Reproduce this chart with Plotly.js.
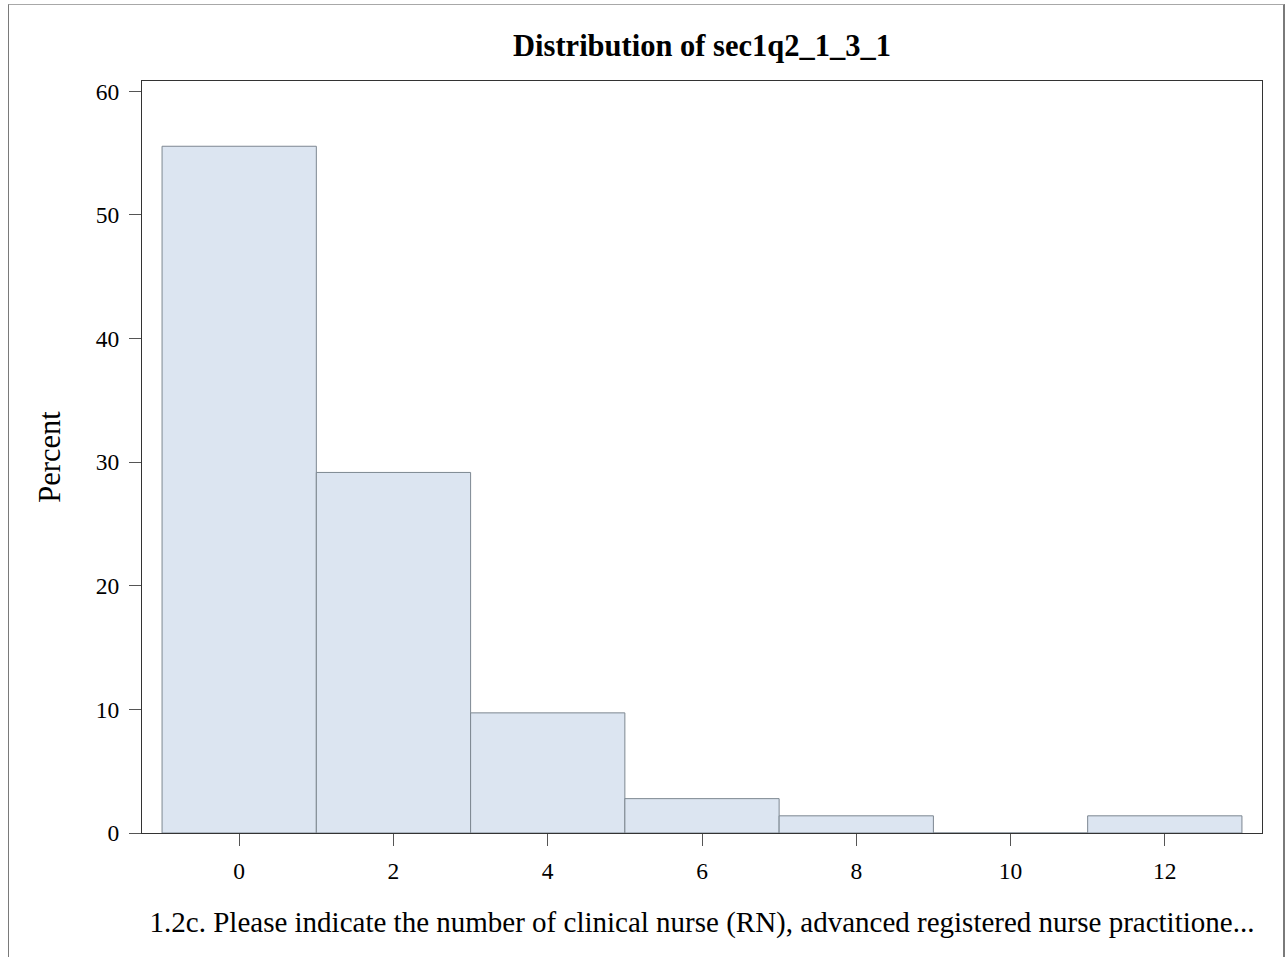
<!DOCTYPE html>
<html>
<head>
<meta charset="utf-8">
<script src="https://cdn.plot.ly/plotly-3.0.1.min.js"></script>
<style>
  html, body { margin: 0; padding: 0; background: #fff; }
  #wrap { position: relative; width: 1285px; height: 957px; }
  #chart { position: absolute; left: 0; top: 0; width: 1285px; height: 957px; }
  #frame { position: absolute; left: 8px; top: 4px; width: 1274px; height: 960px;
           border-left: 1px solid #7a7a7a; border-top: 1px solid #a8a8a8; border-right: 2px solid #7a7a7a;
           pointer-events: none; }
</style>
</head>
<body>
<div id="wrap">
  <div id="chart"></div>
  <div id="frame"></div>
</div>
<script>
// Histogram bins (midpoints) and percentages
const binMidpoints = [0, 2, 4, 6, 8, 10, 12];
const percentValues = [55.56, 29.17, 9.72, 2.78, 1.39, 0, 1.39];
const xTickValues = [0, 2, 4, 6, 8, 10, 12];
const yTickValues = [0, 10, 20, 30, 40, 50, 60];
const chartTitle = "Distribution of sec1q2_1_3_1";
const xAxisTitle = "1.2c. Please indicate the number of clinical nurse (RN), advanced registered nurse practitione...";
const yAxisTitle = "Percent";

const serif = "Liberation Serif, Times New Roman, serif";

const trace = {
  type: "bar",
  x: binMidpoints,
  y: percentValues,
  width: 2,
  marker: { color: "#DCE5F1", line: { color: "#7d8791", width: 1 } },
  hoverinfo: "x+y"
};

const layout = {
  width: 1285,
  height: 957,
  margin: { l: 142, r: 23, t: 81, b: 124, pad: 0 },
  paper_bgcolor: "#ffffff",
  plot_bgcolor: "#ffffff",
  bargap: 0,
  showlegend: false,
  title: {
    text: "<b>" + chartTitle + "</b>",
    font: { family: serif, size: 30.5, color: "#000" },
    x: 0.5, xref: "paper", xanchor: "center",
    y: 0.953, yref: "container", yanchor: "middle"
  },
  xaxis: {
    range: [-1.26, 13.26],
    tickvals: xTickValues,
    ticktext: xTickValues.map(String),
    ticks: "outside", ticklen: 12, tickwidth: 1, tickcolor: "#555",
    ticklabelstandoff: 5,
    showline: true, linecolor: "#333", linewidth: 1, mirror: true,
    showgrid: false, zeroline: false,
    tickfont: { family: serif, size: 23.5, color: "#000" },
    title: { text: xAxisTitle, font: { family: serif, size: 29, color: "#000" }, standoff: 28 }
  },
  yaxis: {
    range: [0, 60.84],
    tickvals: yTickValues,
    ticktext: yTickValues.map(String),
    ticks: "outside", ticklen: 12, tickwidth: 1, tickcolor: "#555",
    ticklabelstandoff: 5,
    showline: true, linecolor: "#333", linewidth: 1, mirror: true,
    showgrid: false, zeroline: false,
    tickfont: { family: serif, size: 23.5, color: "#000" },
    title: { text: yAxisTitle, font: { family: serif, size: 30.5, color: "#000" }, standoff: 26 }
  }
};

Plotly.newPlot("chart", [trace], layout, { displayModeBar: false, staticPlot: true });
</script>
</body>
</html>
